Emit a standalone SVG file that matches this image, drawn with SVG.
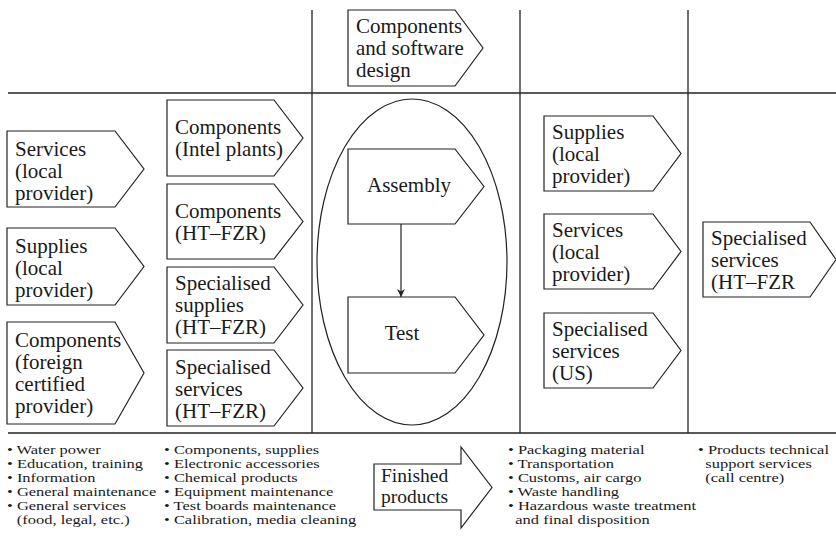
<svg xmlns="http://www.w3.org/2000/svg" width="836" height="538" viewBox="0 0 836 538">
<defs>
<style>
.grid{stroke:#222;stroke-width:1.3;fill:none}
.node{fill:#fff;stroke:#222;stroke-width:1.2}
.t{font-family:"Liberation Serif","Times New Roman",serif;font-size:21px;fill:#1a1a1a}
.b{font-family:"Liberation Serif","Times New Roman",serif;font-size:13.5px;fill:#1a1a1a}
.c{text-anchor:middle}
</style>
<marker id="ah" viewBox="0 0 10 10" refX="10" refY="5" markerWidth="8" markerHeight="8" markerUnits="userSpaceOnUse" orient="auto">
<path d="M0,0 L10,5 L0,10 L3,5 z" fill="#222"/>
</marker>
</defs>
<rect width="836" height="538" fill="#fff"/>
<g id="grid">
<line class="grid" x1="8" y1="93" x2="836" y2="93"/>
<line class="grid" x1="8" y1="433" x2="836" y2="433"/>
<line class="grid" x1="312" y1="10" x2="312" y2="433"/>
<line class="grid" x1="520" y1="10" x2="520" y2="433"/>
<line class="grid" x1="688" y1="10" x2="688" y2="433"/>
</g>
<ellipse id="assembly-zone" cx="412" cy="262" rx="95" ry="163" class="node" fill="none"/>
<g id="n-design">
<polygon class="node" points="348,10 455,10 483,48 455,86 348,86"/>
<text class="t" x="356" y="33">Components</text>
<text class="t" x="356" y="55">and software</text>
<text class="t" x="356" y="77">design</text>
</g>
<g id="n-services-local-1">
<polygon class="node" points="7,131 115,131 144,169 115,207 7,207"/>
<text class="t" x="15" y="156">Services</text>
<text class="t" x="15" y="178">(local</text>
<text class="t" x="15" y="200">provider)</text>
</g>
<g id="n-supplies-local-1">
<polygon class="node" points="7,228 115,228 144,266.5 115,305 7,305"/>
<text class="t" x="15" y="253">Supplies</text>
<text class="t" x="15" y="275">(local</text>
<text class="t" x="15" y="297">provider)</text>
</g>
<g id="n-components-foreign">
<polygon class="node" points="7,322 115,322 144,373 115,424 7,424"/>
<text class="t" x="15" y="347">Components</text>
<text class="t" x="15" y="369">(foreign</text>
<text class="t" x="15" y="391">certified</text>
<text class="t" x="15" y="413">provider)</text>
</g>
<g id="n-components-intel">
<polygon class="node" points="167,100 274,100 303,138 274,176 167,176"/>
<text class="t" x="175" y="134">Components</text>
<text class="t" x="175" y="156">(Intel plants)</text>
</g>
<g id="n-components-htfzr">
<polygon class="node" points="167,184 274,184 303,221.5 274,259 167,259"/>
<text class="t" x="175" y="218">Components</text>
<text class="t" x="175" y="240">(HT–FZR)</text>
</g>
<g id="n-spec-supplies-htfzr">
<polygon class="node" points="167,267 274,267 303,305 274,343 167,343"/>
<text class="t" x="175" y="290">Specialised</text>
<text class="t" x="175" y="312">supplies</text>
<text class="t" x="175" y="334">(HT–FZR)</text>
</g>
<g id="n-spec-services-htfzr">
<polygon class="node" points="167,350 274,350 303,388 274,426 167,426"/>
<text class="t" x="175" y="374">Specialised</text>
<text class="t" x="175" y="396">services</text>
<text class="t" x="175" y="418">(HT–FZR)</text>
</g>
<g id="n-assembly">
<polygon class="node" points="348,149 455,149 484,186.5 455,224 348,224"/>
<text class="t c" x="409" y="192">Assembly</text>
</g>
<g id="n-test">
<polygon class="node" points="348,297 455,297 484,335 455,373 348,373"/>
<text class="t c" x="402" y="340">Test</text>
</g>
<g id="n-supplies-local-2">
<polygon class="node" points="544,116 653,116 681,153.5 653,191 544,191"/>
<text class="t" x="552" y="139">Supplies</text>
<text class="t" x="552" y="161">(local</text>
<text class="t" x="552" y="183">provider)</text>
</g>
<g id="n-services-local-2">
<polygon class="node" points="544,214 653,214 681,251.5 653,289 544,289"/>
<text class="t" x="552" y="237">Services</text>
<text class="t" x="552" y="259">(local</text>
<text class="t" x="552" y="281">provider)</text>
</g>
<g id="n-spec-services-us">
<polygon class="node" points="544,313 653,313 681,350.5 653,388 544,388"/>
<text class="t" x="552" y="336">Specialised</text>
<text class="t" x="552" y="358">services</text>
<text class="t" x="552" y="380">(US)</text>
</g>
<g id="n-spec-services-htfzr-2">
<polygon class="node" points="703,222 810,222 836,259.5 810,297 703,297"/>
<text class="t" x="711" y="245">Specialised</text>
<text class="t" x="711" y="267">services</text>
<text class="t" x="711" y="289">(HT–FZR</text>
</g>
<g id="n-finished">
<polygon class="node" points="374,464 461,464 461,447 492,487.5 461,528 461,510 374,510"/>
<text class="t" x="381" y="482" style="font-size:19.5px">Finished</text>
<text class="t" x="381" y="503" style="font-size:19.5px">products</text>
</g>
<g id="connectors">
<line x1="401" y1="224" x2="401" y2="297" stroke="#222" stroke-width="1.2" marker-end="url(#ah)"/>
</g>
<g id="list-1" class="b" transform="translate(7,0) scale(1.22,1)">
<text x="0" y="454">• Water power</text>
<text x="0" y="468">• Education, training</text>
<text x="0" y="482">• Information</text>
<text x="0" y="496">• General maintenance</text>
<text x="0" y="510">• General services</text>
<text x="8" y="524">(food, legal, etc.)</text>
</g>
<g id="list-2" class="b" transform="translate(164,0) scale(1.22,1)">
<text x="0" y="454">• Components, supplies</text>
<text x="0" y="468">• Electronic accessories</text>
<text x="0" y="482">• Chemical products</text>
<text x="0" y="496">• Equipment maintenance</text>
<text x="0" y="510">• Test boards maintenance</text>
<text x="0" y="524">• Calibration, media cleaning</text>
</g>
<g id="list-3" class="b" transform="translate(508,0) scale(1.22,1)">
<text x="0" y="454">• Packaging material</text>
<text x="0" y="468">• Transportation</text>
<text x="0" y="482">• Customs, air cargo</text>
<text x="0" y="496">• Waste handling</text>
<text x="0" y="510">• Hazardous waste treatment</text>
<text x="6" y="524">and final disposition</text>
</g>
<g id="list-4" class="b" transform="translate(698,0) scale(1.22,1)">
<text x="0" y="454">• Products technical</text>
<text x="6" y="468">support services</text>
<text x="6" y="482">(call centre)</text>
</g>
</svg>
